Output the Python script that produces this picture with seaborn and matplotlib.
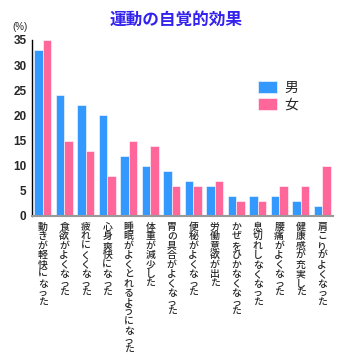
import matplotlib
matplotlib.use("Agg")
import matplotlib.pyplot as plt
import seaborn as sns
import pandas as pd

categories = ["動きが軽快になった", "食欲がよくなった", "疲れにくくなった", "心身爽快になった",
              "睡眠がよくとれるようになった", "体重が減少した", "胃の具合がよくなった",
              "便秘がよくなった", "労働意欲が出た", "かぜをひかなくなった", "息切れしなくなった",
              "腰痛がよくなった", "健康感が充実した", "肩こりがよくなった"]
male = [33, 24, 22, 20, 12, 10, 9, 7, 6, 4, 4, 4, 3, 2]
female = [35, 15, 13, 8, 15, 14, 6, 6, 7, 3, 3, 6, 6, 10]
series = ["男", "女"]
colors = ["#3399FF", "#FF6699"]
yticks = [0, 5, 10, 15, 20, 25, 30, 35]

df = pd.DataFrame({
    "cat": categories * 2,
    "val": male + female,
    "sex": [series[0]] * len(categories) + [series[1]] * len(categories),
})

sns.set_style("white")
plt.rcParams['font.family'] = ['Noto Sans CJK JP', 'DejaVu Sans']

fig = plt.figure(figsize=(3.5, 3.6), dpi=100)
ax = fig.add_axes([32/350, 1-216/360, 301/350, 176/360])

sns.barplot(data=df, x="cat", y="val", hue="sex", palette=colors, ax=ax,
            width=0.78, saturation=1, legend=True)
for p in ax.patches:
    p.set_edgecolor("#ffffff")
    p.set_linewidth(0.4)

ax.set_xlim(-0.5, 13.5)
ax.set_ylim(0, 35)
ax.set_yticks(yticks)
ax.set_yticklabels([str(v) for v in yticks], family=['Liberation Sans'],
                   fontsize=8.5, fontweight='bold')
ax.tick_params(axis='y', length=0, pad=4)
ax.tick_params(axis='x', length=0, pad=4)
ax.set_xticks(range(len(categories)))
ax.set_xticklabels(["\n".join(c) for c in categories], fontsize=7.1,
                   linespacing=0.94, va='top', fontweight='medium')
ax.set_xlabel("")
ax.set_ylabel("")
for s in ["top", "right"]:
    ax.spines[s].set_visible(False)
ax.spines["left"].set_color("black")
ax.spines["left"].set_linewidth(1)
ax.spines["bottom"].set_color("#999999")
ax.spines["bottom"].set_linewidth(1.5)

leg = ax.legend(loc='upper left', bbox_to_anchor=(219/301, 1-(74-40)/176),
                frameon=False, fontsize=10, handlelength=1.4, handleheight=1.0,
                handletextpad=0.5, labelspacing=0.2, borderpad=0)

fig.text(0.503, 1-20/360, "運動の自覚的効果", ha='center', va='center',
         fontsize=12, fontweight='bold', color='#3322EE')
fig.text(20/350, 1-27/360, "(%)", ha='center', va='center', fontsize=7,
         family=['Liberation Sans'])

fig.savefig("out.png", dpi=100)
